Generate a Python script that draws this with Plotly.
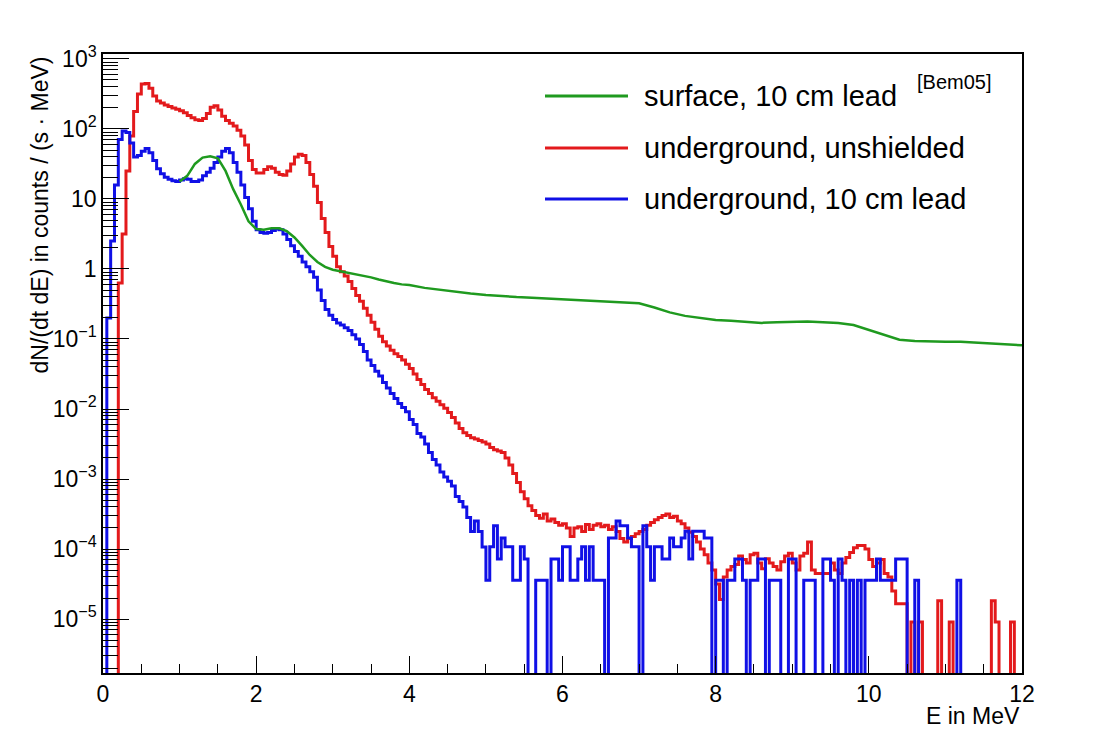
import plotly.graph_objects as go

# ---------------- data ----------------
BIN = 0.05          # MeV, histogram bin width
E_MAX = 12.0

# underground, unshielded (red): log10 of rate per bin, bins starting at 0.20 MeV
red_start = 0.20
red_log10 = [
    -0.2, 0.5, 1.4, 1.9, 2.25, 2.5, 2.64, 2.65, 2.58, 2.47,
    2.4, 2.37, 2.34, 2.32, 2.3, 2.28, 2.26, 2.23, 2.19, 2.16,
    2.13, 2.12, 2.15, 2.22, 2.31, 2.33, 2.27, 2.18, 2.12, 2.08,
    2.04, 1.98, 1.9, 1.77, 1.55, 1.42, 1.37, 1.37, 1.42, 1.46,
    1.44, 1.38, 1.35, 1.34, 1.4, 1.5, 1.6, 1.64, 1.62, 1.52,
    1.35, 1.18, 0.95, 0.72, 0.52, 0.32, 0.18, 0.03, -0.04, -0.1,
    -0.18, -0.28, -0.38, -0.46, -0.56, -0.66, -0.76, -0.86, -0.96, -1.04,
    -1.1, -1.16, -1.21, -1.25, -1.3, -1.36, -1.42, -1.5, -1.58, -1.65,
    -1.72, -1.78, -1.84, -1.89, -1.94, -1.99, -2.05, -2.12, -2.2, -2.28,
    -2.34, -2.38, -2.41, -2.43, -2.45, -2.47, -2.5, -2.55, -2.58, -2.6,
    -2.62, -2.7, -2.8, -2.92, -3.05, -3.18, -3.28, -3.38, -3.45, -3.52,
    -3.56, -3.5, -3.6, -3.57, -3.62, -3.66, -3.64, -3.7, -3.82, -3.7,
    -3.68, -3.75, -3.65, -3.72, -3.66, -3.64, -3.68, -3.66, -3.72, -3.68,
    -3.75, -3.85, -3.9, -3.85, -3.82, -3.78, -3.75, -3.72, -3.66, -3.62,
    -3.58, -3.55, -3.52, -3.5, -3.55, -3.53, -3.6, -3.64, -3.7, -3.76,
    -3.82, -3.9, -4.0, -4.08, -4.2, -4.3, -4.5, -4.72, -4.4, -4.3,
    -4.25, -4.22, -4.1, -4.15, -4.2, -4.08, -4.06, -4.2, -4.28, -4.14,
    -4.2, -4.25, -4.3, -4.18, -4.1, -4.06, -4.2, -4.3, -4.1, -4.06,
    -3.9, -4.3, -4.35, -4.35, -4.35, -4.35, -4.2, -4.3, -4.35, -4.2,
    -4.12, -4.05, -3.98, -3.95, -3.95, -4.0, -4.15, -4.25, -4.2, -4.15,
    -4.35, -4.4, -4.6, -4.78, -4.78, -4.78,
]
# sparse tail (counts per bin), bins starting at 10.50 MeV
red_tail_start = 10.50
red_count_unit = 9.1e-6
red_tail_counts = [
    0, 1, 0, 1, 0, 0, 0, 0, 2, 0,
    0, 1, 0, 0, 0, 0, 0, 0, 0, 0,
    0, 0, 2, 1, 0, 0, 0, 1, 0, 0,
]

# underground, 10 cm lead (blue): log10 of rate per bin, bins starting at 0.05 MeV
blue_start = 0.05
blue_log10 = [
    -0.7, 0.4, 1.2, 1.85, 1.97, 1.95, 1.8, 1.6, 1.62, 1.68,
    1.72, 1.66, 1.55, 1.43, 1.36, 1.31, 1.28, 1.26, 1.25, 1.27,
    1.29, 1.28, 1.25, 1.25, 1.27, 1.33, 1.38, 1.44, 1.52, 1.6,
    1.68, 1.72, 1.66, 1.52, 1.38, 1.2, 1.02, 0.86, 0.68, 0.56,
    0.52, 0.51, 0.52, 0.55, 0.57, 0.56, 0.5, 0.42, 0.33, 0.25,
    0.18, 0.1, 0.03, -0.04, -0.12, -0.3, -0.45, -0.58, -0.66, -0.72,
    -0.77, -0.8, -0.84, -0.88, -0.94, -1.0, -1.08, -1.18, -1.3, -1.38,
    -1.46, -1.53, -1.62, -1.7, -1.78, -1.85, -1.92, -1.98, -2.04, -2.15,
    -2.22, -2.35, -2.4, -2.5, -2.62, -2.72, -2.8, -2.9, -2.97, -3.03,
    -3.1, -3.25, -3.32, -3.4, -3.55, -3.75, -3.6, -3.75, -3.97,
]
# low-statistics tail (counts per bin), bins starting at 5.00 MeV
blue_tail_start = 5.00
blue_count_unit = 3.6e-5
blue_tail_counts = [
    1, 3, 6, 2, 4, 3, 3, 1, 1, 3,
    2, 0, 0, 1, 1, 1, 0, 2, 2, 1,
    3, 3, 1, 1, 2, 3, 1, 3, 1, 1,
    1, 0, 4, 4, 7, 6, 6, 4, 3, 3,
    0, 6, 3, 1, 3, 3, 2, 2, 4, 3,
    3, 4, 5, 2, 5, 5, 5, 4, 4, 0,
    1, 1, 0, 1, 1, 2, 2, 1, 0, 1,
    1, 2, 2, 0, 1, 1, 1, 0, 0, 2,
    2, 0, 0, 1, 1, 1, 0, 0, 2, 2,
    1, 0, 2, 1, 0, 1, 0, 1, 0, 1,
    1, 1, 2, 1, 1, 1, 1, 2, 2, 2,
    0, 0, 1, 0, 0, 0, 0, 0, 0, 0,
    0, 0, 0, 1, 0, 0, 0, 0, 0, 0,
    0, 0, 0, 0, 0, 0, 0, 0, 0, 0,
]

# surface, 10 cm lead (green)
green_E = [1.0, 1.1, 1.2, 1.3, 1.4, 1.5, 1.6, 1.7, 1.8, 1.9,
           2.0, 2.1, 2.2, 2.3, 2.4, 2.5, 2.6, 2.7, 2.8, 2.9,
           3.0, 3.1, 3.2, 3.3, 3.4, 3.5, 3.6, 3.7, 3.8, 3.9,
           4.0, 4.2, 4.4, 4.6, 4.8, 5.0, 5.2, 5.4, 5.6, 5.8,
           6.0, 6.2, 6.4, 6.6, 6.8, 7.0, 7.2, 7.4, 7.6, 7.8,
           8.0, 8.2, 8.4, 8.6, 8.8, 9.0, 9.2, 9.4, 9.6, 9.8,
           10.0, 10.2, 10.4, 10.6, 10.8, 11.0, 11.2, 11.4, 11.6, 11.8, 12.0]
green_log10 = [1.25, 1.33, 1.5, 1.59, 1.61, 1.58, 1.4, 1.14, 0.92, 0.68,
               0.57, 0.56, 0.58, 0.58, 0.54, 0.45, 0.33, 0.2, 0.1, 0.03,
               -0.01, -0.03, -0.05, -0.07, -0.1, -0.12, -0.15, -0.18, -0.2, -0.22,
               -0.23, -0.27, -0.3, -0.32, -0.35, -0.37, -0.39, -0.4, -0.41, -0.42,
               -0.43, -0.44, -0.45, -0.46, -0.47, -0.49, -0.55, -0.62, -0.67, -0.7,
               -0.73, -0.74, -0.75, -0.77, -0.76, -0.75, -0.75, -0.76, -0.77, -0.8,
               -0.87, -0.95, -1.01, -1.03, -1.04, -1.04, -1.04, -1.05, -1.06, -1.07, -1.09]

legend_labels = ["surface, 10 cm lead", "underground, unshielded", "underground, 10 cm lead"]
y_tick_exp = [-5, -4, -3, -2, -1, 0, 1, 2, 3]

# ---------------- build histograms ----------------
FLOOR = 1e-12  # empty bins: drawn below the axis


def histogram(start, logs, tail_start, counts, unit):
    n = int(round(E_MAX / BIN))
    vals = [FLOOR] * n
    i0 = int(round(start / BIN))
    for k, v in enumerate(logs):
        vals[i0 + k] = 10 ** v
    j0 = int(round(tail_start / BIN))
    for k, c in enumerate(counts):
        if j0 + k < n:
            vals[j0 + k] = c * unit if c > 0 else FLOOR
    edges = [round(i * BIN, 4) for i in range(n + 1)]
    return edges, vals + [vals[-1]]


red_x, red_y = histogram(red_start, red_log10, red_tail_start, red_tail_counts, red_count_unit)
blue_x, blue_y = histogram(blue_start, blue_log10, blue_tail_start, blue_tail_counts, blue_count_unit)
green_y = [10 ** v for v in green_log10]

RED = "#e31a1c"
BLUE = "#1010e6"
GREEN = "#1f9a1f"
FONT = "Liberation Sans, Arial, Helvetica, sans-serif"

fig = go.Figure()
fig.add_trace(go.Scatter(x=red_x, y=red_y, mode="lines", line=dict(color=RED, width=3, shape="hv"),
                         name=legend_labels[1], showlegend=False))
fig.add_trace(go.Scatter(x=blue_x, y=blue_y, mode="lines", line=dict(color=BLUE, width=3, shape="hv"),
                         name=legend_labels[2], showlegend=False))
fig.add_trace(go.Scatter(x=green_E, y=green_y, mode="lines", line=dict(color=GREEN, width=2.5),
                         name=legend_labels[0], showlegend=False))


def ylab(e):
    if e == 0:
        return "1"
    if e == 1:
        return "10"
    s = str(e).replace("-", "\u2212")
    return f"10<sup>{s}</sup>"


minor_vals = [m * 10 ** e for e in range(-6, 4) for m in range(2, 10)]

fig.update_xaxes(
    range=[0, 12], dtick=2, tick0=0, ticks="inside", ticklen=17, tickwidth=1.3, tickcolor="black",
    showline=True, linecolor="black", linewidth=1.5, mirror=True, showgrid=False, zeroline=False,
    tickfont=dict(family=FONT, size=23, color="black"),
    minor=dict(dtick=0.5, tick0=0, ticks="inside", ticklen=9, tickwidth=1.2, tickcolor="black", showgrid=False),
)
fig.update_yaxes(
    type="log", range=[-5.77, 3.07],
    tickmode="array", tickvals=[10 ** e for e in y_tick_exp], ticktext=[ylab(e) for e in y_tick_exp],
    ticks="inside", ticklen=26, tickwidth=1.3, tickcolor="black",
    showline=True, linecolor="black", linewidth=1.5, mirror=True, showgrid=False, zeroline=False,
    tickfont=dict(family=FONT, size=23, color="black"),
    minor=dict(tickmode="array", tickvals=minor_vals, ticks="inside", ticklen=15, tickwidth=1.2,
               tickcolor="black", showgrid=False),
)

# page body has an 8 px margin; the figure is placed so the plot area matches the window layout
PAGE_OFF = 8
PL, PR, PT, PB = 103, 1022, 54, 673          # plot area in window pixels
W, H = 1115 - 2 * PAGE_OFF, 730 - PAGE_OFF
L = PL - PAGE_OFF
T = PT - PAGE_OFF
R = W - (PR - PAGE_OFF)
B = H - (PB - PAGE_OFF)
pw, ph = PR - PL, PB - PT


def px(xp):
    return (xp - PL) / pw


def py(yp):
    return (PB - yp) / ph


annotations = [
    dict(text="dN/(dt dE) in counts / (s \u00b7 MeV)", x=px(40), y=py(55), xref="paper", yref="paper",
         xanchor="center", yanchor="top", textangle=-90, showarrow=False,
         font=dict(family=FONT, size=23, color="black")),
    dict(text="E in MeV", x=1.0, y=py(716), xref="paper", yref="paper", xanchor="right", yanchor="middle",
         showarrow=False, font=dict(family=FONT, size=23, color="black")),
    dict(text="[Bem05]", x=px(915), y=py(82), xref="paper", yref="paper", xanchor="left", yanchor="middle",
         showarrow=False, font=dict(family=FONT, size=20, color="black")),
]
shapes = []
legend_rows = [96, 148, 199]
legend_colors = [GREEN, RED, BLUE]
for lab, col, yrow in zip(legend_labels, legend_colors, legend_rows):
    shapes.append(dict(type="line", xref="paper", yref="paper", x0=px(545), x1=px(628), y0=py(yrow), y1=py(yrow),
                       line=dict(color=col, width=3)))
    annotations.append(dict(text=lab, x=px(642), y=py(yrow), xref="paper", yref="paper", xanchor="left",
                            yanchor="middle", showarrow=False, font=dict(family=FONT, size=29, color="black")))

fig.update_layout(
    width=W, height=H, margin=dict(l=L, r=R, t=T, b=B, pad=0),
    paper_bgcolor="white", plot_bgcolor="white", showlegend=False,
    annotations=annotations, shapes=shapes,
)

fig.write_html("out.html")
